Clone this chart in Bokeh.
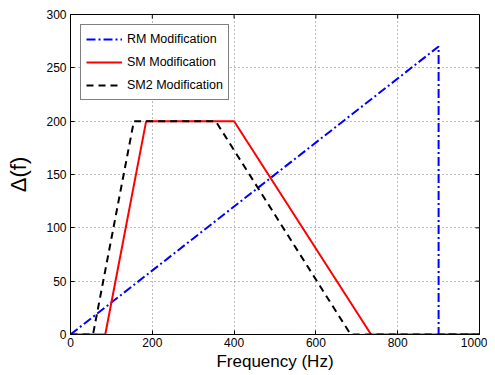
from bokeh.plotting import figure
from bokeh.models import FixedTicker, Range1d, Legend, LegendItem
from bokeh.embed import file_html
from bokeh.resources import INLINE

# ---- data ----
rm_freq = [0, 900, 900, 1000]
rm_delta = [0, 270, 0, 0]
sm_freq = [0, 85, 185, 400, 735, 1000]
sm_delta = [0, 0, 200, 200, 0, 0]
sm2_freq = [0, 55, 155, 355, 685, 1000]
sm2_delta = [0, 0, 200, 200, 0, 0]
x_ticks = [0, 200, 400, 600, 800, 1000]
y_ticks = [0, 50, 100, 150, 200, 250, 300]
series_names = ["RM Modification", "SM Modification", "SM2 Modification"]

FONT = "Liberation Sans"
X_MIN, X_MAX, Y_MIN, Y_MAX = 0, 1000, 0, 300
FW, FH = 409, 320
TICK = 4

p = figure(frame_width=FW, frame_height=FH, output_backend="svg",
           toolbar_location=None, x_range=Range1d(X_MIN, X_MAX), y_range=Range1d(Y_MIN, Y_MAX),
           min_border_left=70, min_border_right=8, min_border_top=14, min_border_bottom=30,
           background_fill_color="white", border_fill_color="white")
p.outline_line_color = "black"
p.outline_line_width = 1

p.xgrid.ticker = FixedTicker(ticks=x_ticks)
p.ygrid.ticker = FixedTicker(ticks=y_ticks)
for g in (p.xgrid[0], p.ygrid[0]):
    g.grid_line_color = "#777777"
    g.grid_line_dash = "1 3"
    g.grid_line_width = 1

r1 = p.line(rm_freq, rm_delta, line_color="#0000ff", line_width=2, line_dash="9 3 2 3")
r2 = p.line(sm_freq, sm_delta, line_color="#ff0000", line_width=2)
r3 = p.line(sm2_freq, sm2_delta, line_color="black", line_width=2, line_dash="7 5")

# mirrored inward ticks on top and right edges (derived from tick lists)
dy = TICK * (Y_MAX - Y_MIN) / FH
dx = TICK * (X_MAX - X_MIN) / FW
p.segment(x0=x_ticks, y0=[Y_MAX] * len(x_ticks), x1=x_ticks, y1=[Y_MAX - dy] * len(x_ticks),
          line_color="black", line_width=1)
p.segment(x0=[X_MAX] * len(y_ticks), y0=y_ticks, x1=[X_MAX - dx] * len(y_ticks), y1=y_ticks,
          line_color="black", line_width=1)

for ax, ticks in ((p.xaxis[0], x_ticks), (p.yaxis[0], y_ticks)):
    ax.ticker = FixedTicker(ticks=ticks)
    ax.major_tick_in = TICK
    ax.major_tick_out = 0
    ax.minor_tick_line_color = None
    ax.axis_line_color = "black"
    ax.major_tick_line_color = "black"
    ax.major_label_text_font = FONT
    ax.major_label_text_font_size = "12px"
    ax.major_label_text_color = "black"
    ax.axis_label_text_font = FONT
    ax.axis_label_text_font_style = "normal"
    ax.axis_label_text_color = "black"

p.xaxis[0].axis_label = "Frequency (Hz)"
p.xaxis[0].axis_label_text_font_size = "17px"
p.xaxis[0].major_label_standoff = 3
p.xaxis[0].axis_label_standoff = 2
p.yaxis[0].axis_label = "Δ(f)"
p.yaxis[0].axis_label_text_font_size = "22px"
p.yaxis[0].major_label_standoff = 4
p.yaxis[0].axis_label_standoff = 12

legend = Legend(items=[LegendItem(label=series_names[0], renderers=[r1]),
                       LegendItem(label=series_names[1], renderers=[r2]),
                       LegendItem(label=series_names[2], renderers=[r3])],
                location="top_left", margin=10, padding=5, spacing=5,
                glyph_width=36, glyph_height=18, label_height=18, label_standoff=5,
                label_text_font=FONT, label_text_font_size="12.5px",
                label_text_color="black", border_line_color="black",
                border_line_width=1, background_fill_alpha=1)
p.add_layout(legend, "center")

open("out.html", "w").write(file_html(p, INLINE))
